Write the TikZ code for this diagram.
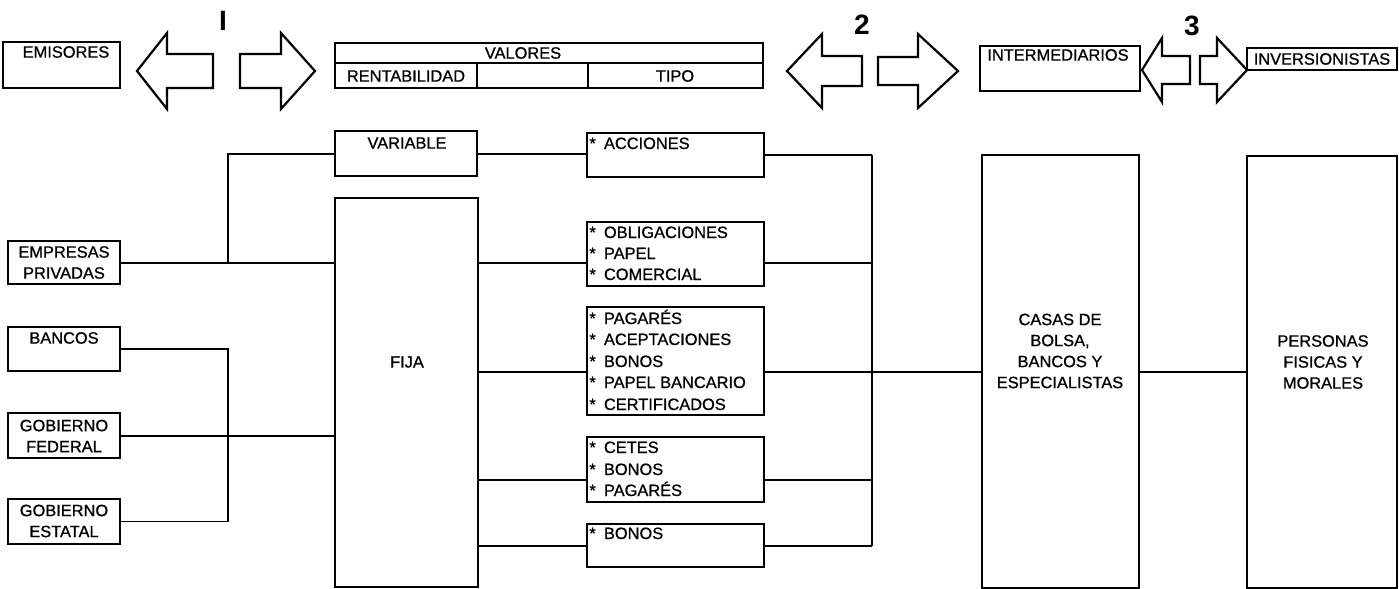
\documentclass[tikz,border=0pt]{standalone}
\usepackage{fontspec}
\setmainfont{Liberation Sans}[BoldFont=Liberation Sans,BoldFeatures={FakeBold=0.9}]
\newfontfamily\numfont{Liberation Sans Bold}
\begin{document}
\begin{tikzpicture}[x=0.5pt,y=-0.5pt,
  box/.style={draw,rectangle,line width=1.4pt,inner sep=0pt,outer sep=0pt},
  cell/.style={draw,rectangle,line width=1pt,inner sep=0pt,outer sep=0pt},
  txt/.style={font=\fontsize{8.2}{10.5}\selectfont\bfseries,inner sep=0pt,align=center},
  ltxt/.style={font=\fontsize{8.2}{10.5}\selectfont\bfseries,inner sep=0pt,anchor=base west},
  num/.style={font=\fontsize{14}{16}\selectfont\numfont,inner sep=0pt},
  conn/.style={line width=1pt},
  thin/.style={line width=0.6pt},
  barrow/.style={line width=1.1pt,line join=miter}]
\useasboundingbox (0,0) rectangle (1399,589);
\newcommand\mkbox[6][box]{\node[#1, minimum width={(#5-#3)*0.5pt}, minimum height={(#6-#4)*0.5pt}] (#2) at ({(#3+#5)/2},{(#4+#6)/2}) {};}
\newcommand\larr[6]{\draw[barrow] (#1,#2) -- (#3,#2-#5) -- (#3,#2-#6) -- (#4,#2-#6) -- (#4,#2+#6) -- (#3,#2+#6) -- (#3,#2+#5) -- cycle;}
\newcommand\rarr[6]{\draw[barrow] (#1,#2) -- (#3,#2-#5) -- (#3,#2-#6) -- (#4,#2-#6) -- (#4,#2+#6) -- (#3,#2+#6) -- (#3,#2+#5) -- cycle;}
% top row boxes
\mkbox{emisores}{3}{42}{120}{88}
\mkbox[cell]{valhead}{335}{43}{763}{63}
\mkbox[cell]{rent}{335}{63}{477}{88}
\mkbox[cell]{blank}{477}{63}{588}{88}
\mkbox[cell]{tipo}{588}{63}{763}{88}
\mkbox{valores}{335}{43}{763}{88}
\mkbox{inter}{980}{46}{1140}{91}
\mkbox{inver}{1247}{48}{1397}{70}
\node[txt] (temis) at (66,52) {EMISORES};
\node[txt] (tval) at (523,53) {VALORES};
\node[txt] (trent) at (406,76) {RENTABILIDAD};
\node[txt] (ttipo) at (675,76) {TIPO};
\node[txt] (tinter) at (1058,55) {INTERMEDIARIOS};
\node[txt] (tinver) at (1322,59) {INVERSIONISTAS};
% block arrows
\larr{137}{71}{167}{213}{38}{17}
\rarr{315}{71}{281}{240}{38}{17}
\larr{787}{71}{822}{862}{37}{15}
\rarr{958}{71}{918}{878}{37}{14}
\larr{1142}{70}{1162}{1190}{32}{14}
\rarr{1247}{70}{1217}{1200}{32}{14}
\node[num] (n1) at (223,21) {I};
\node[num] (n2) at (862,25) {2};
\node[num] (n3) at (1192,26) {3};
% lower boxes
\mkbox{variable}{335}{131}{477}{176}
\mkbox{fija}{335}{198}{478}{587}
\mkbox{empresas}{8}{241}{120}{284}
\mkbox{bancos}{8}{327}{120}{371}
\mkbox{federal}{8}{413}{120}{458}
\mkbox{estatal}{8}{499}{120}{544}
\mkbox{acciones}{587}{133}{764}{177}
\mkbox{oblig}{587}{222}{764}{286}
\mkbox{pagares}{587}{307}{764}{415}
\mkbox{cetes}{587}{437}{764}{502}
\mkbox{bonos}{587}{524}{764}{567}
\mkbox{casas}{982}{155}{1139}{588}
\mkbox{personas}{1247}{156}{1397}{588}
% texts
\node[txt] (tvar) at (407,143) {VARIABLE};
\node[txt] (tfija) at (407,362) {FIJA};
\node[txt] (temp) at (64,262.5) {EMPRESAS\\PRIVADAS};
\node[txt] (tban) at (64,338) {BANCOS};
\node[txt] (tfed) at (64,436) {GOBIERNO\\FEDERAL};
\node[txt] (test) at (64,521) {GOBIERNO\\ESTATAL};
\node[txt] (tcasas) at (1060,351) {CASAS DE\\BOLSA,\\BANCOS Y\\ESPECIALISTAS};
\node[txt] (tpers) at (1323,362) {PERSONAS\\FISICAS Y\\MORALES};
\node[ltxt] (a1) at (589,149) {*\enspace ACCIONES};
\node[ltxt] (b1) at (589,238) {*\enspace OBLIGACIONES};
\node[ltxt] (b2) at (589,259) {*\enspace PAPEL};
\node[ltxt] (b3) at (589,280) {*\enspace COMERCIAL};
\node[ltxt] (c1) at (589,324) {*\enspace PAGARÉS};
\node[ltxt] (c2) at (589,345) {*\enspace ACEPTACIONES};
\node[ltxt] (c3) at (589,367) {*\enspace BONOS};
\node[ltxt] (c4) at (589,388) {*\enspace PAPEL BANCARIO};
\node[ltxt] (c5) at (589,410) {*\enspace CERTIFICADOS};
\node[ltxt] (d1) at (589,453) {*\enspace CETES};
\node[ltxt] (d2) at (589,475) {*\enspace BONOS};
\node[ltxt] (d3) at (589,496) {*\enspace PAGARÉS};
\node[ltxt] (e1) at (589,539) {*\enspace BONOS};
% connectors left
\coordinate (l1) at (228,153.5);
\draw[conn] (variable.west) -- (l1) -- (l1 |- empresas.east);
\draw[conn] (empresas.east) -- (empresas.east -| fija.west);
\draw[thin] (bancos.east) -- (bancos.east -| l1) -- (l1 |- estatal.east) -- (estatal.east);
\draw[conn] (federal.east) -- (federal.east -| fija.west);
% connectors middle
\coordinate (j1) at (872,155);
\coordinate (j2) at (872,263);
\coordinate (j4) at (872,480);
\coordinate (j5) at (872,545.5);
\draw[conn] (variable.east) -- (variable.east -| acciones.west);
\draw[conn] (acciones.east) -- (j1);
\draw[conn] (fija.east |- j2) -- (oblig.west |- j2);
\draw[conn] (oblig.east |- j2) -- (j2);
\draw[conn] (fija.east |- casas.west) -- (pagares.west |- casas.west);
\draw[conn] (pagares.east |- casas.west) -- (casas.west);
\draw[conn] (fija.east |- j4) -- (cetes.west |- j4);
\draw[conn] (cetes.east |- j4) -- (j4);
\draw[conn] (fija.east |- j5) -- (bonos.west);
\draw[conn] (bonos.east) -- (j5);
\draw[conn] (j1) -- (j5);
\draw[conn] (casas.east) -- (casas.east -| personas.west);
\end{tikzpicture}
\end{document}
